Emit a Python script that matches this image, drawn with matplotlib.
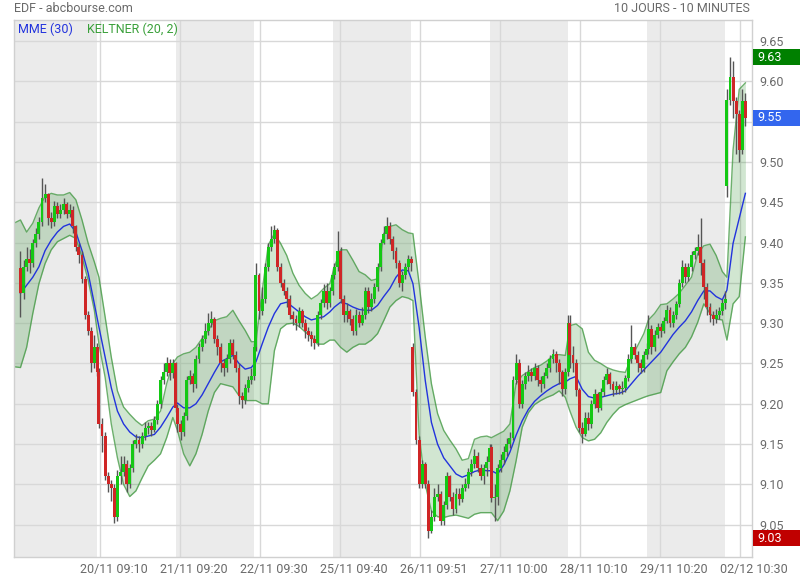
import numpy as np
import matplotlib
matplotlib.use('Agg')
import matplotlib.pyplot as plt
import matplotlib.transforms as mtransforms
from matplotlib.patches import Rectangle

plt.rcParams['font.family'] = ['Roboto', 'DejaVu Sans']

# ---------------- data ----------------
title = "EDF - abcbourse.com"
period_label = "10 JOURS - 10 MINUTES"
tick_labels = ["20/11 09:10", "21/11 09:20", "22/11 09:30", "25/11 09:40",
               "26/11 09:51", "27/11 10:00", "28/11 10:10", "29/11 10:20",
               "02/12 10:30"]
y_ticks = [9.05, 9.10, 9.15, 9.20, 9.25, 9.30, 9.35, 9.40, 9.45, 9.50, 9.55, 9.60, 9.65]

# candles: each candle = 2 ten-minute bars; 26 candles per full day, 7 on the last day
candles_per_day = [26, 26, 26, 26, 26, 26, 26, 26, 26, 7]
day_open = [9.368, 9.240, 9.195, 9.270, 9.360, 9.270, 9.146, 9.300, 9.268, 9.470]

close = [
    9.337, 9.370, 9.380, 9.375, 9.400, 9.410, 9.425, 9.455, 9.460, 9.430, 9.425, 9.445, 9.435,
    9.440, 9.448, 9.435, 9.440, 9.420, 9.395, 9.385, 9.355, 9.310, 9.290, 9.250, 9.270, 9.240,
    9.175, 9.160, 9.110, 9.100, 9.095, 9.060, 9.110, 9.115, 9.125, 9.100, 9.120, 9.150, 9.155,
    9.150, 9.160, 9.170, 9.172, 9.168, 9.180, 9.200, 9.230, 9.240, 9.250, 9.238, 9.250, 9.195,
    9.175, 9.165, 9.185, 9.230, 9.235, 9.225, 9.255, 9.270, 9.280, 9.290, 9.300, 9.305, 9.280,
    9.270, 9.250, 9.245, 9.255, 9.275, 9.260, 9.245, 9.210, 9.205, 9.220, 9.230, 9.235, 9.270,
    9.360, 9.315, 9.330, 9.370, 9.395, 9.405, 9.415, 9.370, 9.350, 9.340, 9.330, 9.310, 9.305,
    9.300, 9.315, 9.300, 9.290, 9.285, 9.280, 9.275, 9.310, 9.325, 9.340, 9.325, 9.340, 9.360,
    9.370, 9.390, 9.330, 9.310, 9.315, 9.305, 9.290, 9.310, 9.300, 9.310, 9.340, 9.320, 9.330,
    9.345, 9.370, 9.400, 9.410, 9.420, 9.405, 9.390, 9.375, 9.350, 9.360, 9.370, 9.380, 9.375,
    9.215, 9.155, 9.100, 9.125, 9.100, 9.042, 9.060, 9.085, 9.088, 9.055, 9.075, 9.110, 9.085,
    9.070, 9.088, 9.082, 9.095, 9.100, 9.115, 9.125, 9.135, 9.120, 9.110, 9.120, 9.128, 9.145,
    9.083, 9.085, 9.120, 9.130, 9.140, 9.150, 9.158, 9.230, 9.250, 9.200, 9.225, 9.235, 9.240,
    9.235, 9.245, 9.230, 9.225, 9.235, 9.245, 9.255, 9.262, 9.250, 9.240, 9.218, 9.240, 9.300,
    9.260, 9.250, 9.217, 9.170, 9.163, 9.183, 9.175, 9.200, 9.212, 9.195, 9.215, 9.230, 9.237,
    9.225, 9.217, 9.222, 9.218, 9.220, 9.232, 9.255, 9.270, 9.260, 9.250, 9.245, 9.260, 9.268,
    9.293, 9.270, 9.285, 9.295, 9.290, 9.303, 9.316, 9.300, 9.310, 9.324, 9.350, 9.370, 9.357,
    9.370, 9.384, 9.390, 9.395, 9.375, 9.345, 9.320, 9.310, 9.305, 9.310, 9.315, 9.325, 9.330,
    9.577, 9.605, 9.575, 9.560, 9.515, 9.575, 9.555,
]
high = [
    9.390, 9.378, 9.395, 9.392, 9.405, 9.418, 9.432, 9.480, 9.472, 9.462, 9.438, 9.452, 9.450,
    9.448, 9.455, 9.450, 9.448, 9.445, 9.422, 9.400, 9.390, 9.358, 9.315, 9.295, 9.285, 9.275,
    9.245, 9.182, 9.165, 9.115, 9.105, 9.100, 9.118, 9.135, 9.135, 9.130, 9.125, 9.155, 9.162,
    9.160, 9.165, 9.178, 9.178, 9.178, 9.185, 9.205, 9.235, 9.250, 9.258, 9.255, 9.256, 9.252,
    9.200, 9.180, 9.190, 9.235, 9.242, 9.238, 9.260, 9.275, 9.285, 9.300, 9.312, 9.315, 9.308,
    9.285, 9.275, 9.255, 9.262, 9.280, 9.280, 9.265, 9.250, 9.215, 9.225, 9.235, 9.245, 9.275,
    9.375, 9.362, 9.345, 9.375, 9.400, 9.420, 9.422, 9.418, 9.375, 9.355, 9.345, 9.335, 9.315,
    9.310, 9.320, 9.318, 9.305, 9.295, 9.290, 9.285, 9.315, 9.330, 9.348, 9.350, 9.345, 9.368,
    9.375, 9.414, 9.395, 9.335, 9.325, 9.318, 9.310, 9.318, 9.315, 9.320, 9.345, 9.345, 9.338,
    9.350, 9.375, 9.405, 9.420, 9.432, 9.425, 9.408, 9.395, 9.378, 9.365, 9.375, 9.385, 9.383,
    9.275, 9.218, 9.160, 9.130, 9.128, 9.105, 9.068, 9.095, 9.100, 9.092, 9.080, 9.115, 9.112,
    9.090, 9.095, 9.095, 9.100, 9.108, 9.120, 9.132, 9.144, 9.140, 9.125, 9.125, 9.135, 9.150,
    9.150, 9.100, 9.125, 9.138, 9.148, 9.158, 9.165, 9.235, 9.262, 9.255, 9.230, 9.240, 9.248,
    9.245, 9.250, 9.248, 9.235, 9.240, 9.250, 9.260, 9.268, 9.265, 9.255, 9.242, 9.245, 9.310,
    9.310, 9.272, 9.255, 9.220, 9.178, 9.190, 9.190, 9.205, 9.218, 9.215, 9.220, 9.235, 9.245,
    9.240, 9.228, 9.228, 9.225, 9.228, 9.236, 9.262, 9.298, 9.275, 9.265, 9.255, 9.265, 9.275,
    9.310, 9.298, 9.292, 9.300, 9.300, 9.308, 9.322, 9.320, 9.315, 9.328, 9.355, 9.378, 9.375,
    9.375, 9.390, 9.395, 9.410, 9.430, 9.380, 9.350, 9.325, 9.315, 9.318, 9.320, 9.330, 9.340,
    9.590, 9.630, 9.625, 9.580, 9.565, 9.590, 9.585,
]
low = [
    9.308, 9.330, 9.365, 9.362, 9.370, 9.395, 9.405, 9.420, 9.450, 9.422, 9.418, 9.420, 9.430,
    9.430, 9.435, 9.430, 9.432, 9.412, 9.390, 9.375, 9.350, 9.305, 9.285, 9.240, 9.245, 9.235,
    9.170, 9.140, 9.105, 9.090, 9.080, 9.052, 9.055, 9.100, 9.110, 9.090, 9.095, 9.115, 9.145,
    9.140, 9.145, 9.155, 9.162, 9.160, 9.165, 9.175, 9.195, 9.225, 9.235, 9.230, 9.232, 9.190,
    9.165, 9.155, 9.160, 9.180, 9.225, 9.215, 9.220, 9.250, 9.265, 9.275, 9.285, 9.295, 9.275,
    9.260, 9.240, 9.235, 9.240, 9.250, 9.255, 9.240, 9.200, 9.195, 9.200, 9.215, 9.225, 9.230,
    9.265, 9.305, 9.310, 9.325, 9.365, 9.390, 9.400, 9.365, 9.345, 9.335, 9.320, 9.305, 9.298,
    9.292, 9.295, 9.295, 9.282, 9.278, 9.272, 9.268, 9.272, 9.305, 9.320, 9.318, 9.320, 9.335,
    9.355, 9.365, 9.325, 9.302, 9.302, 9.298, 9.285, 9.285, 9.295, 9.298, 9.305, 9.312, 9.315,
    9.325, 9.340, 9.365, 9.398, 9.405, 9.398, 9.380, 9.368, 9.345, 9.340, 9.355, 9.365, 9.365,
    9.210, 9.150, 9.095, 9.095, 9.095, 9.033, 9.040, 9.055, 9.080, 9.050, 9.050, 9.070, 9.080,
    9.062, 9.065, 9.075, 9.078, 9.092, 9.095, 9.110, 9.120, 9.115, 9.105, 9.100, 9.110, 9.120,
    9.078, 9.055, 9.075, 9.115, 9.125, 9.135, 9.145, 9.155, 9.225, 9.195, 9.195, 9.218, 9.228,
    9.228, 9.230, 9.222, 9.215, 9.220, 9.232, 9.240, 9.250, 9.240, 9.225, 9.210, 9.212, 9.235,
    9.245, 9.240, 9.210, 9.165, 9.152, 9.160, 9.168, 9.170, 9.195, 9.190, 9.192, 9.210, 9.225,
    9.218, 9.210, 9.212, 9.212, 9.212, 9.215, 9.228, 9.250, 9.255, 9.240, 9.238, 9.240, 9.255,
    9.262, 9.262, 9.265, 9.282, 9.283, 9.288, 9.300, 9.295, 9.295, 9.305, 9.320, 9.345, 9.350,
    9.352, 9.365, 9.380, 9.385, 9.360, 9.330, 9.310, 9.302, 9.298, 9.300, 9.305, 9.310, 9.318,
    9.457, 9.570, 9.555, 9.510, 9.500, 9.510, 9.545,
]

# indicators, read at every second candle (13 per full day, 4 on the last day)
band_start_upper = 9.424
band_start_lower = 9.246
keltner_upper = [
    9.428, 9.413, 9.424, 9.443, 9.457, 9.461, 9.459, 9.459, 9.462, 9.453, 9.428, 9.399, 9.376,
    9.357, 9.308, 9.258, 9.216, 9.196, 9.187, 9.179, 9.173, 9.179, 9.181, 9.191, 9.225, 9.250,
    9.258, 9.262, 9.264, 9.270, 9.281, 9.291, 9.303, 9.306, 9.308, 9.316, 9.303, 9.291, 9.277,
    9.277, 9.339, 9.397, 9.411, 9.399, 9.384, 9.362, 9.347, 9.337, 9.330, 9.335, 9.343, 9.349,
    9.370, 9.391, 9.391, 9.378, 9.364, 9.360, 9.353, 9.355, 9.411, 9.420, 9.422, 9.416, 9.412,
    9.411, 9.349, 9.283, 9.225, 9.188, 9.167, 9.155, 9.144, 9.130, 9.132, 9.156, 9.159, 9.160,
    9.158, 9.162, 9.166, 9.175, 9.225, 9.235, 9.240, 9.245, 9.248, 9.253, 9.260, 9.261, 9.260,
    9.297, 9.299, 9.293, 9.264, 9.254, 9.250, 9.245, 9.242, 9.240, 9.239, 9.258, 9.272, 9.287,
    9.304, 9.312, 9.323, 9.324, 9.330, 9.337, 9.347, 9.357, 9.386, 9.396, 9.398, 9.384, 9.364,
    9.357, 9.515, 9.590, 9.598,
]
keltner_lower = [
    9.245, 9.270, 9.312, 9.349, 9.374, 9.391, 9.401, 9.405, 9.409, 9.405, 9.382, 9.353, 9.316,
    9.274, 9.233, 9.175, 9.133, 9.100, 9.085, 9.092, 9.108, 9.123, 9.130, 9.138, 9.158, 9.183,
    9.167, 9.138, 9.123, 9.138, 9.162, 9.191, 9.214, 9.225, 9.223, 9.221, 9.210, 9.204, 9.204,
    9.204, 9.200, 9.200, 9.266, 9.293, 9.299, 9.300, 9.296, 9.289, 9.283, 9.274, 9.274, 9.279,
    9.279, 9.270, 9.264, 9.270, 9.274, 9.274, 9.279, 9.287, 9.303, 9.320, 9.328, 9.333, 9.331,
    9.328, 9.162, 9.100, 9.067, 9.060, 9.059, 9.061, 9.062, 9.060, 9.058, 9.063, 9.065, 9.065,
    9.065, 9.055, 9.067, 9.092, 9.129, 9.171, 9.189, 9.199, 9.204, 9.208, 9.211, 9.216, 9.208,
    9.191, 9.171, 9.158, 9.154, 9.156, 9.164, 9.177, 9.187, 9.195, 9.199, 9.202, 9.205, 9.208,
    9.210, 9.212, 9.214, 9.241, 9.252, 9.262, 9.270, 9.283, 9.301, 9.324, 9.312, 9.305, 9.304,
    9.279, 9.324, 9.333, 9.407,
]
mme = [
    9.337, 9.347, 9.357, 9.370, 9.390, 9.403, 9.413, 9.420, 9.423, 9.413, 9.390, 9.362, 9.324,
    9.295, 9.258, 9.220, 9.191, 9.175, 9.165, 9.159, 9.158, 9.160, 9.162, 9.171, 9.183, 9.196,
    9.201, 9.195, 9.195, 9.200, 9.211, 9.225, 9.239, 9.252, 9.256, 9.260, 9.250, 9.243, 9.245,
    9.252, 9.274, 9.295, 9.312, 9.324, 9.326, 9.320, 9.314, 9.308, 9.304, 9.306, 9.308, 9.314,
    9.320, 9.326, 9.324, 9.320, 9.317, 9.316, 9.316, 9.322, 9.333, 9.343, 9.357, 9.366, 9.365,
    9.349, 9.295, 9.229, 9.177, 9.150, 9.133, 9.123, 9.113, 9.109, 9.112, 9.116, 9.118, 9.117,
    9.117, 9.113, 9.124, 9.140, 9.161, 9.179, 9.193, 9.203, 9.210, 9.216, 9.221, 9.225, 9.227,
    9.231, 9.234, 9.218, 9.209, 9.207, 9.208, 9.210, 9.212, 9.213, 9.216, 9.225, 9.234, 9.242,
    9.248, 9.256, 9.264, 9.275, 9.286, 9.295, 9.303, 9.314, 9.328, 9.340, 9.340, 9.333, 9.329,
    9.341, 9.399, 9.430, 9.461,
]

# ---------------- layout / style ----------------
BARS_PER_DAY = 51
BARS_PER_CANDLE = 2
X_LEFT, X_RIGHT = -3.7, 475.8
Y_LOW, Y_HIGH = 9.010, 9.676

UP_COLOR = '#14c814'
DOWN_COLOR = '#cf2626'
WICK_COLOR = '#555555'
GRAY_BAND = '#ebebeb'
GRID_COLOR = '#d8d8d8'
TEXT_COLOR = '#6a6a6a'

W, H = 800, 580
fig = plt.figure(figsize=(W / 100, H / 100), dpi=100)
ax = fig.add_axes([14 / W, (H - 557) / H, 738 / W, 537 / H])
ax.set_xlim(X_LEFT, X_RIGHT)
ax.set_ylim(Y_LOW, Y_HIGH)

# candle positions
cx = []
for d, n in enumerate(candles_per_day):
    for i in range(n):
        cx.append(d * BARS_PER_DAY + BARS_PER_CANDLE * i + 0.5)
cx = np.array(cx)
close_a = np.array(close)
high_a = np.array(high)
low_a = np.array(low)
open_a = np.empty_like(close_a)
k = 0
for d, n in enumerate(candles_per_day):
    for i in range(n):
        open_a[k] = day_open[d] if i == 0 else close_a[k - 1]
        k += 1

# alternating day backgrounds
for d in range(len(candles_per_day)):
    if d % 2 == 0:
        x0 = d * BARS_PER_DAY - 0.5
        x1 = x0 + BARS_PER_DAY
        if d == 0:
            x0 = X_LEFT
        ax.axvspan(x0, x1, color=GRAY_BAND, lw=0, zorder=0)

# grid
tick_x = [52 * (k + 1) for k in range(len(tick_labels))]
for y in y_ticks:
    ax.axhline(y, color=GRID_COLOR, lw=1, zorder=0.5)
for x in tick_x:
    ax.axvline(x, color=GRID_COLOR, lw=1, zorder=0.5)

# indicator x positions: every second candle
ind_x = []
k = 0
for d, n in enumerate(candles_per_day):
    for i in range(n):
        if i % 2 == 0:
            ind_x.append(cx[k])
        k += 1
ind_x = np.array(ind_x)
bx = np.concatenate([[X_LEFT], ind_x])
bu = np.concatenate([[band_start_upper], keltner_upper])
bl = np.concatenate([[band_start_lower], keltner_lower])

ax.fill_between(bx, bl, bu, color='#2f8f2f', alpha=0.22, lw=0, zorder=1)
ax.plot(bx, bu, color='#3d963d', lw=1, alpha=0.75, zorder=1.2)
ax.plot(bx, bl, color='#3d963d', lw=1, alpha=0.75, zorder=1.2)
ax.plot(ind_x, mme, color='#2233dd', lw=1, zorder=1.5)

# candles
up = close_a >= open_a
ax.vlines(cx, low_a, high_a, color=WICK_COLOR, lw=1, zorder=2)
body_bottom = np.minimum(open_a, close_a)
body_h = np.maximum(np.abs(close_a - open_a), 0.0015)
colors = np.where(up, UP_COLOR, DOWN_COLOR)
ax.bar(cx, body_h, bottom=body_bottom, width=1.9, color=colors, lw=0, zorder=3)

# price boxes on the right axis (last price, period high, period low)
last_price = close[-1]
box_values = [max(high), last_price, min(low)]
box_colors = ['#008000', '#3366ee', '#c00000']

# axes styling
for s in ax.spines.values():
    s.set_color('#d0d0d0')
    s.set_linewidth(1)
ax.set_xticks([])
ax.yaxis.tick_right()
ax.set_yticks(y_ticks)
# the tick label under the last-price box is covered by that box in the reference
ax.set_yticklabels(["" if abs(v - round(last_price, 2)) < 1e-9 else f"{v:.2f}" for v in y_ticks])
ax.tick_params(axis='y', length=0, pad=5, labelsize=9, labelcolor=TEXT_COLOR)

# x labels (shifted right of the grid line, as in the reference)
offset = mtransforms.ScaledTranslation(14 / 100, 0, fig.dpi_scale_trans)
lab_tr = mtransforms.blended_transform_factory(ax.transData, ax.transAxes) + offset
for x, lab in zip(tick_x, tick_labels):
    ax.text(x, -(569 - 557) / 537, lab, transform=lab_tr, ha='center', va='center',
            fontsize=9, color=TEXT_COLOR, clip_on=False)

# titles
fig.text(14 / W, 1 - 9 / H, title, ha='left', va='center', fontsize=9, color=TEXT_COLOR)
fig.text(750 / W, 1 - 9 / H, period_label, ha='right', va='center', fontsize=9, color=TEXT_COLOR)

# legend
ax.text(4 / 738, 1 - 9 / 537, "MME (30)", transform=ax.transAxes, ha='left', va='center',
        fontsize=9, color='#2233dd')
ax.text(73 / 738, 1 - 9 / 537, "KELTNER (20, 2)", transform=ax.transAxes, ha='left', va='center',
        fontsize=9, color='#3aa03a')

fig.canvas.draw()
for v, c in zip(box_values, box_colors):
    ypix = ax.transData.transform((0, v))[1]
    fig.patches.append(Rectangle((753 / W, (ypix - 8) / H), 47 / W, 16 / H,
                                 transform=fig.transFigure, facecolor=c, edgecolor='none'))
    fig.text(757 / W, ypix / H, f"{np.floor(v * 100 + 1e-6) / 100:.2f}", ha='left', va='center',
             fontsize=9, color='white')

fig.savefig('out.png', dpi=100)
